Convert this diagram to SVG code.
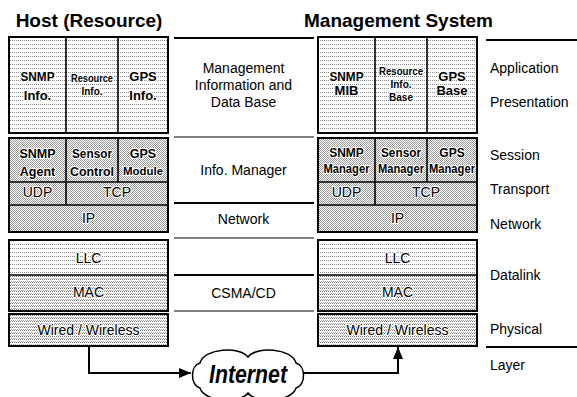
<svg xmlns="http://www.w3.org/2000/svg" width="577" height="397" viewBox="0 0 577 397">
<style>
.box{stroke:#000;stroke-width:2;}
.div{stroke:#000;stroke-width:1.6;fill:none;}
.b{font-family:"Liberation Sans",Arial,sans-serif;font-weight:bold;fill:#000;text-anchor:middle;paint-order:stroke;stroke:#fff;stroke-width:2;stroke-linejoin:round;}
.r{font-family:"Liberation Sans",Arial,sans-serif;font-size:14px;fill:#000;text-anchor:middle;paint-order:stroke;stroke:#fff;stroke-width:2;stroke-linejoin:round;}
.m{font-family:"Liberation Sans",Arial,sans-serif;font-size:14px;fill:#000;text-anchor:middle;}
.lg{font-family:"Liberation Sans",Arial,sans-serif;font-size:14px;fill:#000;}
.title{font-family:"Liberation Sans",Arial,sans-serif;font-size:19px;font-weight:bold;fill:#000;}
.thick{stroke:#000;stroke-width:2;}
.thin{stroke:#000;stroke-width:1.2;}
.conn{stroke:#000;stroke-width:2;fill:none;}
</style>
<defs>
<pattern id="pLight" width="2" height="4" patternUnits="userSpaceOnUse"><rect width="2" height="4" fill="#fff"/><rect width="1" height="1" fill="#8a8a8a"/></pattern>
<pattern id="pDense" width="2" height="2" patternUnits="userSpaceOnUse"><rect width="2" height="2" fill="#fff"/><rect width="1" height="1" fill="#999"/><rect x="1" y="1" width="1" height="1" fill="#999"/></pattern>
<pattern id="pLines" width="2" height="3" patternUnits="userSpaceOnUse"><rect width="2" height="3" fill="#fff"/><rect width="1" height="1" fill="#777"/><rect x="1" y="2" width="1" height="1" fill="#aaa"/></pattern>
<marker id="arr" viewBox="0 0 12 10" refX="12" refY="5" markerWidth="12" markerHeight="10" markerUnits="userSpaceOnUse" orient="auto"><path d="M0,0 L12,5 L0,10 Z" fill="#000"/></marker>
</defs>
<rect width="577" height="397" fill="#fff"/>

<text class="title" x="89" y="27" text-anchor="middle">Host (Resource)</text>
<text class="title" x="304" y="27">Management System</text>

<g id="host-app">
<rect class="box" x="9" y="37" width="159" height="96" fill="url(#pLight)"/>
<line class="div" x1="66" y1="37" x2="66" y2="133"/>
<line class="div" x1="118" y1="37" x2="118" y2="133"/>
<text class="b" font-size="13" x="37.5" y="81" textLength="34" lengthAdjust="spacingAndGlyphs">SNMP</text>
<text class="b" font-size="13" x="37.5" y="100">Info.</text>
<text class="b" font-size="11" x="92" y="82" textLength="42" lengthAdjust="spacingAndGlyphs">Resource</text>
<text class="b" font-size="10" x="92" y="95">Info.</text>
<text class="b" font-size="13" x="143" y="81">GPS</text>
<text class="b" font-size="13" x="143" y="100">Info.</text>
</g>

<g id="host-stack">
<rect class="box" x="9" y="138" width="159" height="94" fill="url(#pDense)"/>
<line class="div" x1="9" y1="182" x2="168" y2="182"/>
<line class="div" x1="9" y1="205" x2="168" y2="205"/>
<line class="div" x1="66" y1="138" x2="66" y2="205"/>
<line class="div" x1="118" y1="138" x2="118" y2="182"/>
<text class="b" font-size="12.5" x="37.5" y="158">SNMP</text>
<text class="b" font-size="12.5" x="37.5" y="176">Agent</text>
<text class="b" font-size="12.5" x="92" y="158" textLength="40" lengthAdjust="spacingAndGlyphs">Sensor</text>
<text class="b" font-size="12.5" x="92" y="176" textLength="44" lengthAdjust="spacingAndGlyphs">Control</text>
<text class="b" font-size="12.5" x="143" y="158">GPS</text>
<text class="b" font-size="11" x="143" y="175" textLength="40" lengthAdjust="spacingAndGlyphs">Module</text>
<text class="r" x="37.5" y="197">UDP</text>
<text class="r" x="117" y="197">TCP</text>
<text class="r" x="88.5" y="223">IP</text>
</g>

<g id="host-datalink">
<rect class="box" x="9" y="240" width="159" height="71" fill="url(#pLight)"/>
<rect x="10" y="275" width="157" height="35" fill="url(#pLines)"/>
<line class="div" x1="9" y1="275" x2="168" y2="275"/>
<text class="r" x="88.5" y="263">LLC</text>
<text class="r" x="88.5" y="297">MAC</text>
</g>

<g id="host-physical">
<rect class="box" x="9" y="314" width="159" height="32" fill="url(#pLines)"/>
<text class="r" x="88.5" y="335">Wired / Wireless</text>
</g>

<g id="mgr-app">
<rect class="box" x="318" y="37" width="159" height="96" fill="url(#pLight)"/>
<line class="div" x1="375" y1="37" x2="375" y2="133"/>
<line class="div" x1="427" y1="37" x2="427" y2="133"/>
<text class="b" font-size="13" x="346.5" y="81" textLength="34" lengthAdjust="spacingAndGlyphs">SNMP</text>
<text class="b" font-size="13" x="346.5" y="95">MIB</text>
<text class="b" font-size="11" x="401" y="75" textLength="44" lengthAdjust="spacingAndGlyphs">Resource</text>
<text class="b" font-size="10" x="401" y="88">Info.</text>
<text class="b" font-size="10" x="401" y="101">Base</text>
<text class="b" font-size="13" x="452" y="81">GPS</text>
<text class="b" font-size="13" x="452" y="95">Base</text>
</g>

<g id="mgr-stack">
<rect class="box" x="318" y="138" width="159" height="94" fill="url(#pDense)"/>
<line class="div" x1="318" y1="182" x2="477" y2="182"/>
<line class="div" x1="318" y1="205" x2="477" y2="205"/>
<line class="div" x1="375" y1="138" x2="375" y2="205"/>
<line class="div" x1="427" y1="138" x2="427" y2="182"/>
<text class="b" font-size="12" x="346.5" y="157">SNMP</text>
<text class="b" font-size="12" x="346.5" y="173" textLength="46" lengthAdjust="spacingAndGlyphs">Manager</text>
<text class="b" font-size="12" x="401" y="157" textLength="40" lengthAdjust="spacingAndGlyphs">Sensor</text>
<text class="b" font-size="12" x="401" y="173" textLength="46" lengthAdjust="spacingAndGlyphs">Manager</text>
<text class="b" font-size="12" x="452" y="157">GPS</text>
<text class="b" font-size="12" x="452" y="173" textLength="46" lengthAdjust="spacingAndGlyphs">Manager</text>
<text class="r" x="346.5" y="197">UDP</text>
<text class="r" x="426" y="197">TCP</text>
<text class="r" x="397.5" y="223">IP</text>
</g>

<g id="mgr-datalink">
<rect class="box" x="318" y="240" width="159" height="71" fill="url(#pLight)"/>
<rect x="319" y="275" width="157" height="35" fill="url(#pLines)"/>
<line class="div" x1="318" y1="275" x2="477" y2="275"/>
<text class="r" x="397.5" y="263">LLC</text>
<text class="r" x="397.5" y="297">MAC</text>
</g>

<g id="mgr-physical">
<rect class="box" x="318" y="314" width="159" height="32" fill="url(#pLines)"/>
<text class="r" x="397.5" y="335">Wired / Wireless</text>
</g>

<g id="middle">
<line class="thick" x1="174" y1="38" x2="314" y2="38"/>
<line class="thin" x1="174" y1="137" x2="314" y2="137"/>
<line class="thick" x1="174" y1="203" x2="314" y2="203"/>
<line class="thin" x1="174" y1="238" x2="314" y2="238"/>
<line class="thick" x1="174" y1="275" x2="314" y2="275"/>
<line class="thin" x1="174" y1="311" x2="314" y2="311"/>
<text class="m" x="243.5" y="73">Management</text>
<text class="m" x="243.5" y="90">Information and</text>
<text class="m" x="243.5" y="107">Data Base</text>
<text class="m" x="243.5" y="175">Info. Manager</text>
<text class="m" x="243.5" y="224">Network</text>
<text class="m" x="243.5" y="298">CSMA/CD</text>
</g>

<g id="legend">
<line class="thick" x1="486" y1="40" x2="577" y2="40"/>
<line class="thick" x1="486" y1="347" x2="577" y2="347"/>
<text class="lg" x="490" y="73">Application</text>
<text class="lg" x="490" y="107">Presentation</text>
<text class="lg" x="490" y="160">Session</text>
<text class="lg" x="490" y="194">Transport</text>
<text class="lg" x="490" y="229">Network</text>
<text class="lg" x="490" y="280">Datalink</text>
<text class="lg" x="490" y="334">Physical</text>
<text class="lg" x="490" y="370">Layer</text>
</g>

<g id="internet">
<path d="M200,363 C204,348 240,346 248,357 C256,346 292,348 296,363 C306,366 306,384 296,388 C292,402 256,404 248,393 C240,404 204,402 200,388 C190,384 190,366 200,363 Z" fill="#fff" stroke="#000" stroke-width="1.5"/>
<text x="248" y="383" text-anchor="middle" font-family="'Liberation Sans',Arial,sans-serif" font-size="25" font-weight="bold" font-style="italic" textLength="78" lengthAdjust="spacingAndGlyphs">Internet</text>
</g>

<g id="connectors">
<polyline class="conn" points="89,346 89,373 191,373" marker-end="url(#arr)"/>
<polyline class="conn" points="304,373 398,373 398,347" marker-end="url(#arr)"/>
</g>
</svg>
